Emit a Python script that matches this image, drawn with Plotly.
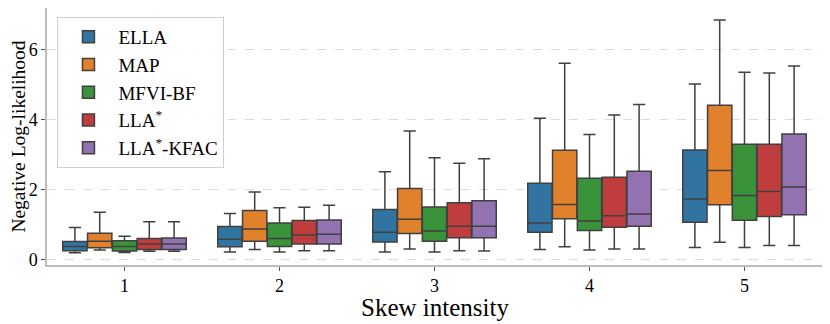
import plotly.graph_objects as go

skew = ["1", "2", "3", "4", "5"]
methods = ["ELLA", "MAP", "MFVI-BF", "LLA<sup>*</sup>", "LLA<sup>*</sup>-KFAC"]
colors = ["#3274a1", "#e1812c", "#3a923a", "#c03d3e", "#9372b2"]

# per method: values for skew intensity 1..5
lower = [
    [0.20, 0.22, 0.22, 0.29, 0.35],
    [0.28, 0.29, 0.31, 0.37, 0.50],
    [0.21, 0.22, 0.22, 0.28, 0.35],
    [0.24, 0.26, 0.26, 0.31, 0.41],
    [0.24, 0.26, 0.25, 0.31, 0.41],
]
q1 = [
    [0.26, 0.37, 0.51, 0.79, 1.07],
    [0.34, 0.53, 0.75, 1.17, 1.57],
    [0.25, 0.38, 0.53, 0.84, 1.13],
    [0.29, 0.45, 0.63, 0.93, 1.24],
    [0.29, 0.45, 0.63, 0.96, 1.29],
]
median = [
    [0.38, 0.59, 0.79, 1.05, 1.74],
    [0.53, 0.88, 1.16, 1.58, 2.55],
    [0.38, 0.61, 0.82, 1.11, 1.84],
    [0.45, 0.71, 0.96, 1.26, 1.95],
    [0.45, 0.73, 0.96, 1.31, 2.08],
]
q3 = [
    [0.52, 0.95, 1.44, 2.19, 3.14],
    [0.76, 1.41, 2.04, 3.13, 4.42],
    [0.54, 1.05, 1.51, 2.33, 3.30],
    [0.61, 1.12, 1.63, 2.36, 3.30],
    [0.62, 1.14, 1.69, 2.53, 3.60],
]
upper = [
    [0.92, 1.32, 2.52, 4.05, 5.03],
    [1.36, 1.94, 3.68, 5.62, 6.86],
    [0.67, 1.49, 2.92, 3.58, 5.36],
    [1.09, 1.50, 2.76, 4.14, 5.34],
    [1.09, 1.56, 2.89, 4.44, 5.54],
]
yticks = [0, 2, 4, 6]

font = "'Liberation Serif', 'DejaVu Serif', serif"

fig = go.Figure()
for i, m in enumerate(methods):
    fig.add_trace(go.Box(
        name=m, x=skew,
        lowerfence=lower[i], q1=q1[i], median=median[i], q3=q3[i], upperfence=upper[i],
        fillcolor=colors[i],
        line=dict(color="#404040", width=1.5),
        whiskerwidth=0.5,
        boxpoints=False,
    ))

# page body adds an 8px offset, so the figure is drawn 822x316
fig.update_layout(
    width=822, height=316,
    margin=dict(l=39, r=8, t=0, b=59),
    plot_bgcolor="white", paper_bgcolor="white",
    boxmode="group", boxgap=0.2, boxgroupgap=0.02,
    font=dict(family=font, color="black"),
    legend=dict(
        x=0.0135, y=0.965, xanchor="left", yanchor="top",
        bordercolor="#d0d0d0", borderwidth=1, bgcolor="rgba(255,255,255,0.9)",
        font=dict(size=19, family=font), tracegroupgap=0, itemwidth=50,
    ),
    showlegend=True,
)
# x title placed as annotation so it sits close under the tick labels
fig.add_annotation(
    text="Skew intensity", xref="paper", yref="paper", x=0.5, y=-0.165,
    xanchor="center", yanchor="middle", showarrow=False,
    font=dict(size=25, family=font, color="black"),
)
fig.update_xaxes(
    type="category", range=[-0.5, 4.5], automargin=False,
    tickfont=dict(size=18, family=font),
    showline=True, linecolor="#bdbdbd", linewidth=1.5,
    ticks="outside", ticklen=4, tickcolor="#555", showgrid=False,
)
fig.update_yaxes(
    range=[-0.15, 7.2], tickvals=yticks, automargin=False,
    title=dict(text="Negative Log-likelihood", font=dict(size=19.5, family=font), standoff=4),
    tickfont=dict(size=18, family=font),
    showline=True, linecolor="#bdbdbd", linewidth=1.5,
    ticks="outside", ticklen=4, tickcolor="#555",
    showgrid=True, gridcolor="#dcdcdc", griddash="dash", gridwidth=1,
    zeroline=False,
)

fig.write_html("out.html")
